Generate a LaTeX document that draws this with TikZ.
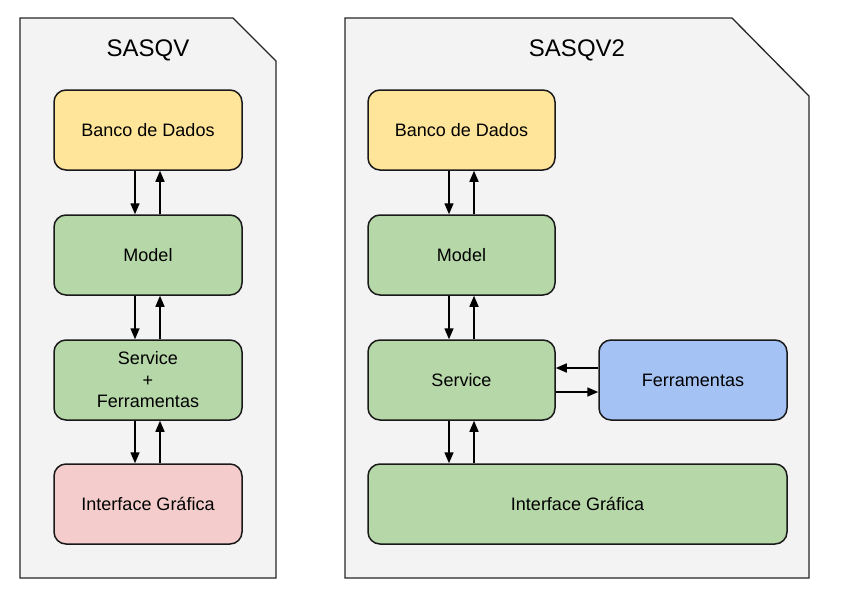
\documentclass[tikz,border=0pt]{standalone}
\usepackage{fontspec}
\setmainfont{Liberation Sans}
\usetikzlibrary{arrows.meta}
\definecolor{docfill}{HTML}{F3F3F3}
\definecolor{ylw}{HTML}{FFE599}
\definecolor{grn}{HTML}{B6D7A8}
\definecolor{pnk}{HTML}{F4CCCC}
\definecolor{blu}{HTML}{A4C2F4}
\tikzset{
  doc/.style={draw=black!85, fill=docfill, line width=1.3pt},
  box/.style={draw=black!90, line width=1.5pt, rounded corners=12pt, minimum height=80pt,
     inner sep=0pt, font=\fontsize{18}{21.5}\selectfont, align=center},
  title/.style={font=\fontsize{24}{27}\selectfont},
  arr/.style={line width=1.5pt, -{Triangle[length=11pt,width=9pt]}}
}
\begin{document}
\begin{tikzpicture}[x=1pt,y=-1pt]
\useasboundingbox (0,0) rectangle (862,603);
% documents
\draw[doc] (20,18) -- (233,18) -- (276,61) -- (276,578) -- (20,578) -- cycle;
\draw[doc] (345,18) -- (732,18) -- (809,96) -- (809,578) -- (345,578) -- cycle;
\node[title] (tL) at (148,50) {SASQV};
\node[title] (tR) at (577,50) {SASQV2};
% left boxes
\node[box, fill=ylw, minimum width=188pt] (bancoL) at (148,130) {Banco de Dados};
\node[box, fill=grn, minimum width=188pt] (modelL) at (148,255) {Model};
\node[box, fill=grn, minimum width=188pt] (serviceL) at (148,380) {Service\\+\\Ferramentas};
\node[box, fill=pnk, minimum width=188pt] (guiL) at (148,504) {Interface Gráfica};
% right boxes
\node[box, fill=ylw, minimum width=187pt] (bancoR) at (461.5,130) {Banco de Dados};
\node[box, fill=grn, minimum width=187pt] (modelR) at (461.5,255) {Model};
\node[box, fill=grn, minimum width=187pt] (serviceR) at (461.5,380) {Service};
\node[box, fill=blu, minimum width=188pt] (ferrR) at (693,380) {Ferramentas};
\node[box, fill=grn, minimum width=419pt] (guiR) at (577.5,504) {Interface Gráfica};
% left arrows
\draw[arr] ([xshift=-13pt]bancoL.south) -- ([xshift=-13pt]modelL.north);
\draw[arr] ([xshift=12pt]modelL.north) -- ([xshift=12pt]bancoL.south);
\draw[arr] ([xshift=-13pt]modelL.south) -- ([xshift=-13pt]serviceL.north);
\draw[arr] ([xshift=12pt]serviceL.north) -- ([xshift=12pt]modelL.south);
\draw[arr] ([xshift=-13pt]serviceL.south) -- ([xshift=-13pt]guiL.north);
\draw[arr] ([xshift=12pt]guiL.north) -- ([xshift=12pt]serviceL.south);
% right arrows
\draw[arr] ([xshift=-12.5pt]bancoR.south) -- ([xshift=-12.5pt]modelR.north);
\draw[arr] ([xshift=12.5pt]modelR.north) -- ([xshift=12.5pt]bancoR.south);
\draw[arr] ([xshift=-12.5pt]modelR.south) -- ([xshift=-12.5pt]serviceR.north);
\draw[arr] ([xshift=12.5pt]serviceR.north) -- ([xshift=12.5pt]modelR.south);
\draw[arr] ([xshift=-12.5pt]serviceR.south) -- ([xshift=-12.5pt]serviceR.south |- guiR.north);
\draw[arr] ([xshift=12.5pt]serviceR.south |- guiR.north) -- ([xshift=12.5pt]serviceR.south);
\draw[arr] ([yshift=12pt]ferrR.west) -- ([yshift=12pt]serviceR.east);
\draw[arr] ([yshift=-12pt]serviceR.east) -- ([yshift=-12pt]ferrR.west);
\end{tikzpicture}
\end{document}
